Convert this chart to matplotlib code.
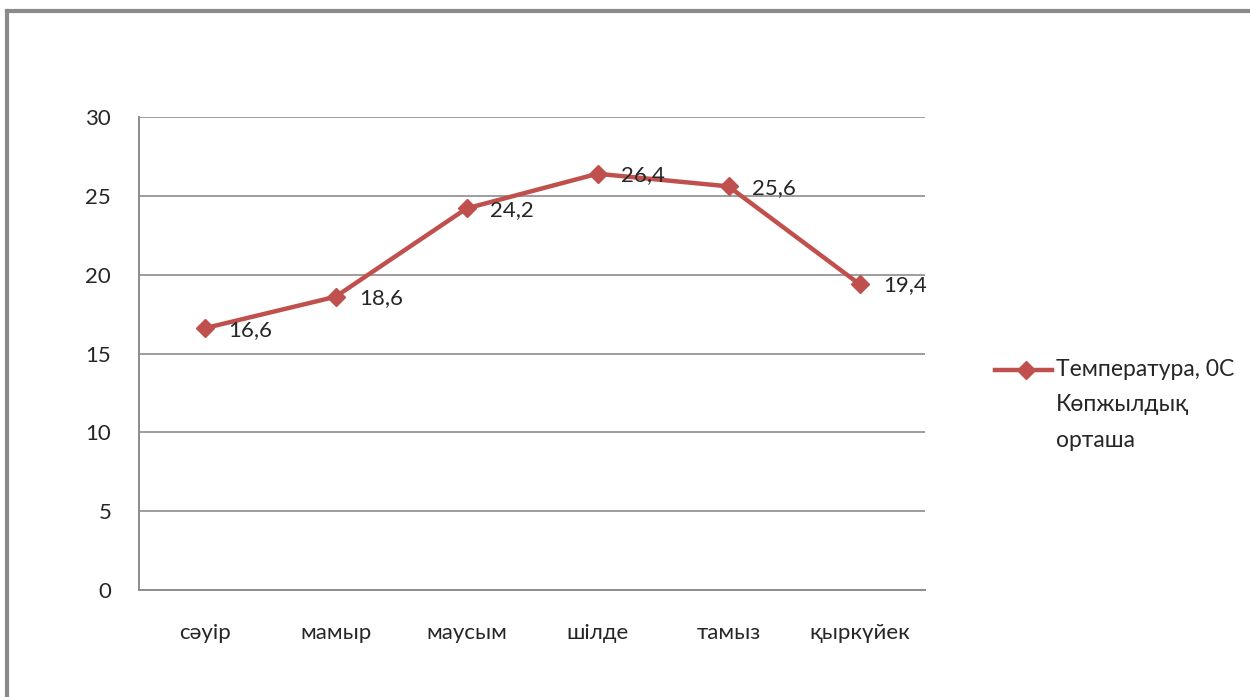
import matplotlib
matplotlib.use("Agg")
import matplotlib.pyplot as plt
from matplotlib.lines import Line2D

# monthly mean temperature (long-term average)
months = ["сәуір", "мамыр", "маусым", "шілде", "тамыз", "қыркүйек"]
temps  = [16.6, 18.6, 24.2, 26.4, 25.6, 19.4]
yticks = [0, 5, 10, 15, 20, 25, 30]
series_label = "Температура, 0С\nКөпжылдық\nорташа"

RED  = "#C0504D"
GRID = "#8C8C8C"
TXT  = "#262626"
FS   = 16

plt.rcParams["font.family"] = ["Lato", "DejaVu Sans"]

W, H = 1250, 697
fig = plt.figure(figsize=(W / 100, H / 100), dpi=100)
ax = fig.add_axes([139 / W, 1 - 590 / H, (925 - 139) / W, (590 - 117) / H])

x = list(range(len(months)))
ax.plot(x, temps, color=RED, lw=3.2, marker="D", ms=9, mfc=RED, mec=RED, zorder=3)
for xi, v in zip(x, temps):
    ax.annotate(f"{v:.1f}".replace(".", ","), (xi, v), xytext=(17, -1),
                textcoords="offset points", ha="left", va="center",
                fontsize=FS, color=TXT, zorder=4)

ax.set_xlim(-0.5, len(months) - 0.5)
ax.set_ylim(0, 30)
ax.set_yticks(yticks)
ax.set_xticks(x)
ax.set_xticklabels(months)
ax.tick_params(axis="both", length=0, labelsize=FS, labelcolor=TXT)
ax.tick_params(axis="y", pad=20)
ax.tick_params(axis="x", pad=24)
ax.yaxis.grid(True, color=GRID, lw=1.2)
ax.set_axisbelow(True)
for s in ["top", "right"]:
    ax.spines[s].set_visible(False)
for s in ["left", "bottom"]:
    ax.spines[s].set_color(GRID)
    ax.spines[s].set_linewidth(1.4)

# legend: sample line with marker, label text to its right
ly = 1 - 370 / H
fig.add_artist(Line2D([995 / W, 1052 / W], [ly, ly], color=RED, lw=3.2))
fig.add_artist(Line2D([1026 / W], [ly], color=RED, marker="D", ms=9, mec=RED))
fig.text(1056 / W, 1 - 359 / H, series_label, ha="left", va="top",
         fontsize=FS + 0.5, color=TXT, linespacing=1.85)

# outer chart frame (top and left edges visible)
fig.add_artist(Line2D([7 / W, 1.0], [1 - 11 / H] * 2, color="#8A8A8A", lw=3))
fig.add_artist(Line2D([7 / W] * 2, [0.0, 1 - 11 / H], color="#8A8A8A", lw=3))

fig.savefig("out.png", dpi=100, facecolor="white")
